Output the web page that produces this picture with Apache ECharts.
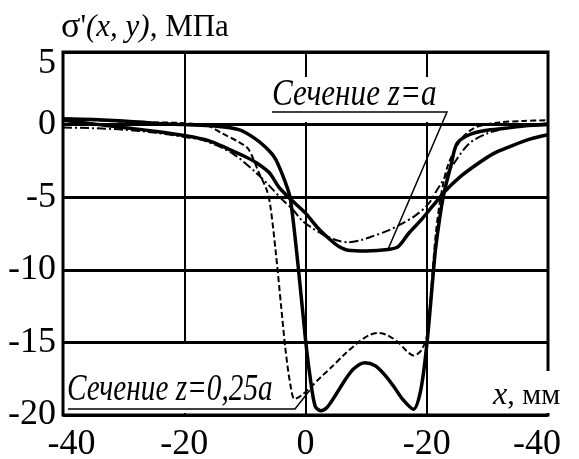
<!DOCTYPE html>
<html>
<head>
<meta charset="utf-8">
<script src="https://cdn.jsdelivr.net/npm/echarts@6/dist/echarts.min.js"></script>
<style>
html, body { margin: 0; padding: 0; background: #fff; }
#main { width: 579px; height: 459px; }
</style>
</head>
<body>
<div id="main"></div>
<script>
// ticks
const xTicks = [-40, -20, 0, 20, 40];
const xTickLabels = ['-40', '-20', '0', '-20', '-40'];
const yTicks = [5, 0, -5, -10, -15, -20];

// z = 0.25a, solid thick
const s1X = [-40, -35, -30, -25, -20, -15, -11, -8.2, -6, -4.9, -3.3, -2.5, -1.2, 0, 0.8, 1.6, 2.5, 3.5, 5, 6.5, 8, 9.8, 11.5, 13, 14.5, 16, 17.8, 19, 20, 21, 21.5, 22.7, 24, 25, 27, 29.6, 33, 36, 40];
const s1Y = [0.4, 0.35, 0.25, 0.1, 0, -0.1, -0.35, -1.0, -1.8, -2.4, -4.0, -5.1, -9.8, -14.8, -17.5, -19.4, -19.7, -19.5, -18.6, -17.6, -16.8, -16.4, -16.6, -17.2, -18.0, -18.9, -19.6, -18.3, -15.2, -10.6, -8.4, -5.0, -2.8, -1.3, -0.7, -0.4, -0.25, -0.1, 0];
// z = 0.25a, dashed
const s2X = [-40, -35, -30, -25, -20, -16, -13.8, -11, -9.4, -7.7, -6.4, -5.8, -4.9, -4, -3.3, -2.5, -1.8, -0.5, 0.8, 2.5, 4.3, 6.5, 8.7, 10.5, 12, 13.5, 15.3, 16.7, 17.8, 19, 20, 20.8, 21.5, 22.3, 23.5, 25.7, 28, 32, 36, 40];
const s2Y = [0.4, 0.3, 0.2, 0.15, 0.1, -0.1, -0.6, -1.2, -1.7, -3.3, -4.5, -5.6, -8.8, -12.6, -15.5, -17.9, -18.9, -18.6, -18.1, -17.4, -16.7, -15.8, -15.0, -14.5, -14.35, -14.5, -15.0, -15.6, -15.9, -15.6, -14.6, -11, -7.5, -5, -2.8, -1.0, -0.2, 0.15, 0.25, 0.3];
// z = a, solid thick
const s3X = [-40, -35, -30, -25, -20, -16, -12.6, -10, -8.2, -6, -4.4, -2.3, 0, 2, 4, 5.5, 7, 10, 13.6, 15.3, 17, 19, 21, 23, 25.5, 28.4, 31, 33.8, 37, 40];
const s3Y = [0.3, 0.05, -0.2, -0.45, -0.75, -1.1, -1.7, -2.2, -2.6, -3.3, -4.3, -5.2, -6.1, -7.1, -7.9, -8.4, -8.65, -8.7, -8.6, -8.4, -7.5, -6.6, -5.6, -4.6, -3.6, -2.7, -2.0, -1.5, -1.0, -0.7];
// z = a, dash-dot
const s4X = [-40, -35, -30, -25, -20, -16.7, -12, -8.2, -6, -4, -2, -0.6, 1, 2.6, 5, 7, 9.2, 11, 13.6, 16, 18, 20.2, 22, 24.6, 27, 30, 34, 40];
const s4Y = [-0.2, -0.25, -0.35, -0.55, -0.85, -1.1, -2.0, -3.3, -4.2, -5.1, -5.9, -6.6, -7.1, -7.5, -7.95, -8.1, -7.95, -7.7, -7.3, -6.8, -6.3, -5.5, -4.3, -2.6, -1.3, -0.6, -0.2, 0.1];

const zip = (xs, ys) => xs.map((x, i) => [x, ys[i]]);
const serif = '"Liberation Serif", "Times New Roman", Times, serif';

var myChart = echarts.init(document.getElementById('main'));

myChart.setOption({
    animation: false,
    backgroundColor: '#fff',
    grid: {
        left: 63, right: 31, top: 52, bottom: 44, show: true, borderColor: '#000', borderWidth: 3,
        containLabel: false, outerBoundsMode: 'none'
    },
    xAxis: {
        type: 'value', min: -40, max: 40, interval: 20,
        axisLine: { show: false }, axisTick: { show: false },
        splitLine: { show: true, lineStyle: { color: '#000', width: 2 } },
        axisLabel: {
            color: '#000', fontFamily: serif, fontSize: 36, margin: 12,
            showMinLabel: true, showMaxLabel: true,
            formatter: function (v) {
                let t = xTickLabels[xTicks.indexOf(v)];
                if (v === -40) return '{l|' + t + '}';
                if (v === 40) return '{r|' + t + '}';
                return t;
            },
            rich: {
                l: { fontFamily: serif, fontSize: 36, color: '#000', padding: [0, 0, 0, 17] },
                r: { fontFamily: serif, fontSize: 36, color: '#000', padding: [0, 22, 0, 0] }
            }
        }
    },
    yAxis: {
        type: 'value', min: -20, max: 5, interval: 5,
        axisLine: { show: false }, axisTick: { show: false },
        splitLine: { show: true, lineStyle: { color: '#000', width: 3 } },
        axisLabel: {
            color: '#000', fontFamily: serif, fontSize: 36, margin: 7,
            showMinLabel: true, showMaxLabel: true,
            formatter: function (v) {
                if (v === 5) return '{t|5}';
                return String(v);
            },
            rich: { t: { fontFamily: serif, fontSize: 36, color: '#000', padding: [24, 0, 0, 0] } }
        }
    },
    series: [
        { type: 'line', data: zip(s1X, s1Y), showSymbol: false, smooth: 0.3, lineStyle: { color: '#000', width: 3.5 }, z: 5 },
        { type: 'line', data: zip(s2X, s2Y), showSymbol: false, smooth: 0.3, lineStyle: { color: '#000', width: 2, type: [6, 3] }, z: 4 },
        { type: 'line', data: zip(s3X, s3Y), showSymbol: false, smooth: 0.3, lineStyle: { color: '#000', width: 3.5 }, z: 5 },
        { type: 'line', data: zip(s4X, s4Y), showSymbol: false, smooth: 0.3, lineStyle: { color: '#000', width: 2, type: [9, 3, 2, 3] }, z: 4 }
    ]
});

// annotations; leader ends are taken from the data scale
const pA = myChart.convertToPixel({ gridIndex: 0 }, [13.6, -8.6]);
const pB = myChart.convertToPixel({ gridIndex: 0 }, [0.7, -18.3]);

myChart.setOption({
    graphic: [
        { type: 'rect', z: 100, shape: { x: 268, y: 77, width: 181, height: 45 }, style: { fill: '#fff' } },
        { type: 'rect', z: 100, shape: { x: 65, y: 344, width: 217, height: 69 }, style: { fill: '#fff' } },
        { type: 'rect', z: 100, shape: { x: 489, y: 371, width: 90, height: 42 }, style: { fill: '#fff' } },
        {
            type: 'text', z: 101, x: 61, y: 28,
            style: {
                text: '{s|σ}{p|\'}{i|(x, y)}{n|, МПа}',
                verticalAlign: 'middle',
                rich: {
                    s: { fontFamily: serif, fontSize: 36, fill: '#000' },
                    n: { fontFamily: serif, fontSize: 31, fill: '#000' },
                    p: { fontFamily: serif, fontSize: 31, fill: '#000' },
                    i: { fontFamily: serif, fontSize: 31, fontStyle: 'italic', fill: '#000' }
                }
            }
        },
        {
            type: 'text', z: 101, x: 272, y: 95, scaleX: 0.82,
            style: { text: 'Сечение z=a', fontFamily: serif, fontStyle: 'italic', fontSize: 38, fill: '#000', verticalAlign: 'middle' }
        },
        {
            type: 'text', z: 101, x: 67, y: 390, scaleX: 0.77,
            style: { text: 'Сечение z=0,25a', fontFamily: serif, fontStyle: 'italic', fontSize: 38, fill: '#000', verticalAlign: 'middle' }
        },
        {
            type: 'text', z: 101, x: 493, y: 396,
            style: {
                text: '{i|x}{n|, мм}', verticalAlign: 'middle',
                rich: {
                    i: { fontFamily: serif, fontSize: 32, fontStyle: 'italic', fill: '#000' },
                    n: { fontFamily: serif, fontSize: 30, fill: '#000' }
                }
            }
        },
        {
            type: 'polyline', z: 102,
            shape: { points: [[272, 112], [447, 112], pA] },
            style: { stroke: '#000', lineWidth: 1.5, fill: null }
        },
        {
            type: 'polyline', z: 102,
            shape: { points: [[68, 409], [295, 409], pB] },
            style: { stroke: '#000', lineWidth: 1.5, fill: null }
        }
    ]
});
</script>
</body>
</html>
